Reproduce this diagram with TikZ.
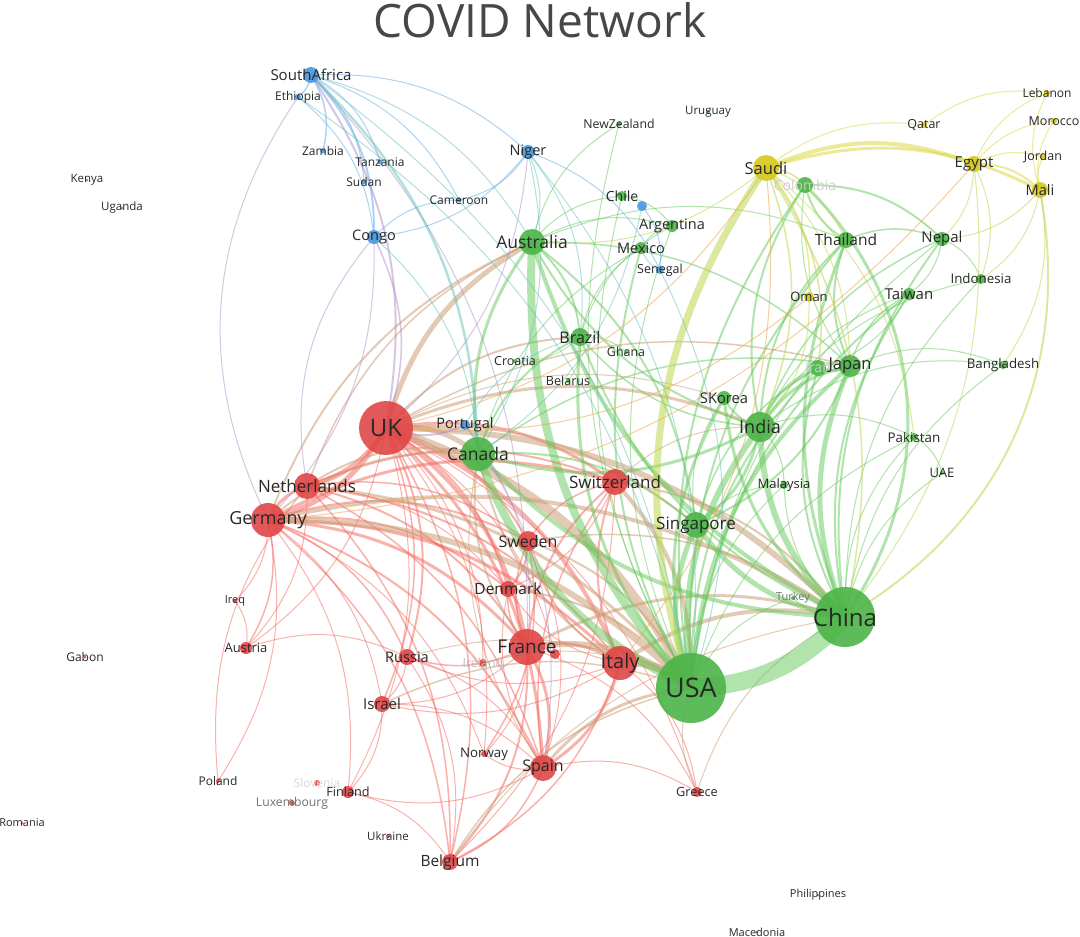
\documentclass[tikz,border=0pt]{standalone}
\usepackage{fontspec}
\setmainfont{Open Sans}
\pgfdeclarelayer{bg}\pgfdeclarelayer{edges}\pgfdeclarelayer{labels}
\pgfsetlayers{bg,edges,main,labels}
\definecolor{nR}{RGB}{224,70,70}
\definecolor{nG}{RGB}{76,180,72}
\definecolor{nB}{RGB}{72,152,222}
\definecolor{nY}{RGB}{212,200,32}
\definecolor{eRc}{RGB}{244,100,90}
\definecolor{eGc}{RGB}{100,200,90}
\definecolor{eBc}{RGB}{110,175,232}
\definecolor{eYc}{RGB}{222,215,70}
\definecolor{eMc}{RGB}{205,160,120}
\definecolor{eYGc}{RGB}{190,215,80}
\definecolor{eRBc}{RGB}{175,140,200}
\definecolor{eGBc}{RGB}{100,195,185}
\definecolor{eRYc}{RGB}{240,165,80}
\definecolor{txt}{RGB}{40,40,40}
\tikzset{
  nd/.style={circle, inner sep=0pt, fill opacity=.9, draw=none},
  lbl/.style={text=txt, inner sep=0pt},
  eR/.style={draw=eRc, draw opacity=.5, bend left=22},
  eG/.style={draw=eGc, draw opacity=.5, bend left=22},
  eB/.style={draw=eBc, draw opacity=.55, bend left=22},
  eY/.style={draw=eYc, draw opacity=.55, bend left=22},
  eM/.style={draw=eMc, draw opacity=.55, bend left=22},
  eYG/.style={draw=eYGc, draw opacity=.55, bend left=22},
  eRB/.style={draw=eRBc, draw opacity=.5, bend left=22},
  eGB/.style={draw=eGBc, draw opacity=.5, bend left=22},
  eRY/.style={draw=eRYc, draw opacity=.55, bend left=22},
}
\newcommand\Nd[7]{%
  \node[nd, fill=#4, minimum size=#5pt] (#1) at (#2,#3) {};
  \begin{pgfonlayer}{labels}
  \node[lbl, font=\fontsize{#6}{#6}\selectfont] (#1-t) at (#2,#3) {#7};
  \end{pgfonlayer}}
\begin{document}
\begin{tikzpicture}[x=1pt,y=-1pt]
\useasboundingbox (0,0) rectangle (1080,937);
\begin{pgfonlayer}{bg}
\fill[white] (0,0) rectangle (1080,937);
\end{pgfonlayer}
\node[text=black!72, font=\fontsize{46}{46}\selectfont, inner sep=0pt] (title) at (540,20) {COVID Network};
% blue
\Nd{SouthAfrica}{311}{75}{nB}{16}{15}{SouthAfrica}
\Nd{Ethiopia}{298}{97}{nB}{6}{12}{Ethiopia}
\Nd{Zambia}{323}{151}{nB}{5}{12}{Zambia}
\Nd{Tanzania}{380}{162}{nB}{5}{12}{Tanzania}
\Nd{Sudan}{364}{182}{nB}{5}{12}{Sudan}
\Nd{Cameroon}{459}{200}{nB}{5}{12}{Cameroon}
\Nd{Congo}{374}{237}{nB}{14}{14.5}{Congo}
\Nd{Niger}{528}{152}{nB}{14}{14.5}{Niger}
\Nd{Senegal}{660}{270}{nB}{8}{12.5}{Senegal}
\Nd{Portugal}{465}{425}{nB}{10}{14.5}{Portugal}
\Nd{Kenya}{87}{180}{nB}{3}{11.5}{Kenya}
\Nd{Uganda}{122}{208}{nB}{3}{11.5}{Uganda}
\node[nd, fill=nB, minimum size=10pt] (bluex) at (642,206) {};
% green
\Nd{Chile}{622}{196}{nG}{10}{14}{Chile}
\Nd{NewZealand}{619}{124}{nG}{5}{12.3}{NewZealand}
\Nd{Uruguay}{708}{112}{nG}{4}{11.5}{Uruguay}
\Nd{Australia}{532}{242}{nG}{26}{17.5}{Australia}
\Nd{Argentina}{672}{226}{nG}{12}{14.5}{Argentina}
\Nd{Mexico}{641}{248}{nG}{12}{14.5}{Mexico}
\Nd{Colombia}{805}{185}{nG}{16}{14}{\color{black!20}Colombia}
\Nd{Thailand}{846}{240}{nG}{16}{15.5}{Thailand}
\Nd{Nepal}{942}{239}{nG}{14}{15}{Nepal}
\Nd{Indonesia}{981}{279}{nG}{10}{13.3}{Indonesia}
\Nd{Taiwan}{909}{294}{nG}{12}{15}{Taiwan}
\Nd{Brazil}{580}{337}{nG}{18}{16}{Brazil}
\Nd{Ghana}{626}{352}{nG}{4}{12.4}{Ghana}
\Nd{Croatia}{515}{361}{nG}{4}{12.5}{Croatia}
\Nd{Belarus}{568}{381}{nG}{4}{12.6}{Belarus}
\Nd{Iran}{818}{368}{nG}{16}{14}{\color{black!20}Iran}
\Nd{Japan}{850}{366}{nG}{22}{16.5}{Japan}
\Nd{Bangladesh}{1003}{365}{nG}{8}{13.3}{Bangladesh}
\Nd{SKorea}{724}{398}{nG}{14}{14.7}{SKorea}
\Nd{India}{760}{427}{nG}{30}{18}{India}
\Nd{Pakistan}{914}{437}{nG}{8}{13.4}{Pakistan}
\Nd{UAE}{942}{473}{nG}{4}{13}{UAE}
\Nd{Malaysia}{784}{485}{nG}{8}{13}{Malaysia}
\Nd{Canada}{478}{454}{nG}{34}{17.5}{Canada}
\Nd{Singapore}{696}{525}{nG}{26}{17}{Singapore}
\Nd{Turkey}{793}{598}{nG}{4}{11}{\color{black!55}Turkey}
\Nd{China}{845}{617}{nG}{60}{24}{China}
\Nd{USA}{691}{688}{nG}{70}{27}{USA}
\Nd{Philippines}{818}{895}{nG}{3}{11}{Philippines}
\Nd{Macedonia}{757}{932}{nG}{3}{11}{Macedonia}
% yellow
\Nd{Saudi}{766}{168}{nY}{26}{16.5}{Saudi}
\Nd{Oman}{809}{297}{nY}{10}{13}{Oman}
\Nd{Qatar}{924}{125}{nY}{6}{12.5}{Qatar}
\Nd{Egypt}{974}{164}{nY}{16}{15}{Egypt}
\Nd{Lebanon}{1047}{93}{nY}{6}{12}{Lebanon}
\Nd{Morocco}{1054}{121}{nY}{6}{12.5}{Morocco}
\Nd{Jordan}{1043}{157}{nY}{6}{12.5}{Jordan}
\Nd{Mali}{1040}{190}{nY}{16}{14.6}{Mali}
% red
\Nd{UK}{386}{428}{nR}{54}{24}{UK}
\Nd{Netherlands}{307}{486}{nR}{26}{17}{Netherlands}
\Nd{Germany}{268}{520}{nR}{34}{18}{Germany}
\Nd{Switzerland}{615}{482}{nR}{26}{17}{Switzerland}
\Nd{Sweden}{528}{541}{nR}{20}{16}{Sweden}
\Nd{Denmark}{508}{589}{nR}{16}{15.5}{Denmark}
\Nd{France}{527}{647}{nR}{36}{19}{France}
\node[nd, fill=nR, minimum size=10pt] (redx) at (555,654) {};
\Nd{Ireland}{483}{663}{nR}{8}{12.5}{\color{black!25}Ireland}
\Nd{Italy}{620}{663}{nR}{34}{20}{Italy}
\Nd{Russia}{407}{657}{nR}{16}{14.6}{Russia}
\Nd{Israel}{382}{704}{nR}{16}{15}{Israel}
\Nd{Iraq}{235}{601}{nR}{4}{11}{Ireq}
\Nd{Austria}{246}{648}{nR}{12}{13}{Austria}
\Nd{Norway}{484}{754}{nR}{6}{13.3}{Norway}
\Nd{Spain}{543}{768}{nR}{26}{16}{Spain}
\Nd{Greece}{697}{792}{nR}{10}{12.7}{Greece}
\Nd{Poland}{218}{781}{nR}{4}{12}{Poland}
\Nd{Slovenia}{317}{783}{nR}{6}{12}{\color{black!15}Slovenia}
\Nd{Luxembourg}{292}{803}{nR}{6}{12.2}{\color{black!55}Luxembourg}
\Nd{Finland}{348}{792}{nR}{12}{12.7}{Finland}
\Nd{Ukraine}{388}{836}{nR}{4}{11.5}{Ukraine}
\Nd{Belgium}{450}{862}{nR}{16}{15.5}{Belgium}
\Nd{Gabon}{85}{657}{nR}{3}{12}{Gabon}
\Nd{Romania}{22}{823}{nR}{3}{11}{Romania}
\begin{pgfonlayer}{edges}
% red-red
\foreach \a/\b/\w in {UK/Germany/5,UK/Netherlands/5,UK/France/4,UK/Italy/4,UK/Spain/3,UK/Switzerland/3,UK/Sweden/2,UK/Denmark/2,UK/Russia/2,UK/Israel/1.5,UK/Belgium/1.5,UK/Norway/1,UK/Austria/1,UK/Finland/1,UK/Greece/1,UK/Ireland/1,
 Germany/Netherlands/3,Germany/France/3,Germany/Italy/3,Germany/Switzerland/3,Germany/Spain/2,Germany/Sweden/2,Germany/Denmark/2,Germany/Austria/1.5,Germany/Russia/1.5,Germany/Israel/1,Germany/Belgium/1.5,Germany/Iraq/1,Germany/Poland/1,Germany/Finland/1,Germany/Norway/1,
 Netherlands/France/2,Netherlands/Italy/2,Netherlands/Spain/1.5,Netherlands/Switzerland/2,Netherlands/Sweden/1.5,Netherlands/Belgium/1.5,Netherlands/Austria/1,
 France/Italy/3,France/Spain/3,France/Switzerland/2,France/Belgium/2,France/Russia/1.5,France/Israel/1,France/Sweden/1.5,France/Denmark/1.5,France/Greece/1,France/Norway/1,France/redx/1.5,
 Italy/Spain/3,Italy/Switzerland/2,Italy/Greece/1,Italy/Belgium/1.5,Italy/Russia/1,Italy/Israel/1,Italy/Sweden/1.5,Italy/Denmark/1,
 Spain/Belgium/1.5,Spain/Norway/1,Spain/Finland/1,Spain/Switzerland/1.5,Spain/Denmark/1,Spain/Greece/1,
 Sweden/Denmark/2,Sweden/Norway/1.5,Sweden/Switzerland/1.5,Switzerland/Denmark/1,Switzerland/Belgium/1,
 Russia/Israel/1,Israel/Finland/1,Austria/Russia/1,Iraq/Austria/1,Poland/Netherlands/1,Israel/Spain/1,Russia/Spain/1,Finland/Belgium/1,UK/redx/1,Netherlands/Denmark/1,Sweden/Spain/1,Russia/Belgium/1}
 {\draw[eR, line width=\w pt] (\a.center) to (\b.center);}
% red-green
\foreach \a/\b/\w in {UK/USA/9,UK/Canada/5,UK/Australia/5,UK/China/6,UK/India/3,UK/Singapore/2,UK/Brazil/2,UK/Japan/1.5,UK/SKorea/1,
 Germany/USA/6,Germany/China/4,Germany/Canada/2,France/USA/6,Italy/USA/7,Italy/China/4,Spain/USA/3,Switzerland/USA/4,Switzerland/China/2,
 Sweden/USA/2,Netherlands/USA/3,Netherlands/Canada/2,Denmark/USA/2,Belgium/USA/1.5,Russia/USA/1,Israel/USA/1.5,Greece/USA/1,France/China/3,
 France/Canada/2,Italy/Canada/2,Spain/Canada/1,Germany/Australia/2,Netherlands/Australia/1.5,Switzerland/India/1,Sweden/China/1.5,Ireland/USA/1,Greece/China/1,Belgium/China/1}
 {\draw[eM, line width=\w pt] (\a.center) to (\b.center);}
% green-green
\foreach \a/\b/\w in {China/USA/18,USA/Canada/8,USA/Australia/8,USA/India/6,USA/Japan/4,USA/Singapore/5,USA/Brazil/3,USA/SKorea/3,USA/Iran/2,USA/Thailand/2,USA/Mexico/2,USA/Colombia/2,USA/Taiwan/2,USA/Turkey/1,USA/Malaysia/1,USA/Argentina/1,USA/Nepal/1,USA/Pakistan/1,USA/Chile/1,USA/NewZealand/1,
 China/India/6,China/Japan/5,China/Singapore/5,China/Canada/4,China/Australia/4,China/Thailand/3,China/Iran/2,China/SKorea/3,China/Brazil/2,China/Taiwan/2,China/Nepal/2,China/Pakistan/1,China/Indonesia/1,China/Malaysia/1,China/Bangladesh/1,China/UAE/1,China/Turkey/1,
 India/Japan/3,India/Iran/3,India/Singapore/3,India/SKorea/2,India/Canada/3,India/Australia/2,India/Thailand/2,India/Nepal/1.5,India/Colombia/2,India/Brazil/1.5,India/Taiwan/1,India/Pakistan/1,India/Malaysia/1,India/Bangladesh/1,India/Indonesia/1,
 Canada/Australia/3,Canada/Brazil/2,Canada/Singapore/2,Canada/Japan/1.5,Canada/Mexico/1,
 Australia/Brazil/2,Australia/Singapore/2,Australia/Japan/1.5,Australia/NewZealand/1,Australia/Argentina/1,Australia/Chile/1,Australia/Thailand/1,
 Japan/Thailand/2,Japan/Colombia/1,Japan/Iran/3,Japan/Singapore/2,Japan/Taiwan/1.5,Thailand/Colombia/2,Thailand/Nepal/1.5,Colombia/Nepal/2,Nepal/Taiwan/1,Nepal/Indonesia/1,Taiwan/Iran/1,
 Singapore/Malaysia/1,Singapore/SKorea/1,Brazil/Argentina/1,Brazil/Mexico/1,Brazil/Ghana/1,Mexico/Argentina/1,Chile/Argentina/1,Brazil/Croatia/.8,Brazil/Belarus/.8,Pakistan/UAE/1,Japan/Bangladesh/1,Singapore/Iran/1.5}
 {\draw[eG, line width=\w pt] (\a.center) to (\b.center);}
\draw[eG, line width=3pt, bend left=40] (Colombia.center) to (China.center);
% yellow
\foreach \a/\b/\w in {Saudi/Egypt/4,Saudi/Mali/3,Saudi/Oman/1.5,Saudi/Qatar/1,Egypt/Mali/2,Egypt/Lebanon/1,Egypt/Morocco/1,Egypt/Jordan/1,Mali/Lebanon/1,Mali/Morocco/1,Qatar/Lebanon/1,Mali/Jordan/1}
 {\draw[eY, line width=\w pt] (\a.center) to (\b.center);}
% yellow-green
\foreach \a/\b/\w in {Mali/Nepal/1,Egypt/Nepal/1,Egypt/Indonesia/1,Mali/Indonesia/1,Saudi/India/1.5,Saudi/Iran/1.5,Saudi/China/1.5,Saudi/Japan/1,Saudi/Thailand/1,Saudi/Colombia/1.5,Saudi/Pakistan/1,Oman/India/1,Saudi/Australia/1,Mali/Bangladesh/1,Egypt/China/1}
 {\draw[eYG, line width=\w pt] (\a.center) to (\b.center);}
\draw[eYG, line width=7pt, bend left=26] (USA.center) to (Saudi.center);
\draw[eYG, line width=2pt, bend left=35] (Mali.center) to (China.center);
% red-yellow
\foreach \a/\b/\w in {Saudi/UK/1,Oman/UK/1,Egypt/Germany/1,Saudi/Italy/1}
 {\draw[eRY, line width=\w pt] (\a.center) to (\b.center);}
% blue
\foreach \a/\b/\w in {SouthAfrica/Ethiopia/1.5,SouthAfrica/Congo/2,SouthAfrica/Zambia/1.5,SouthAfrica/Tanzania/1,SouthAfrica/Sudan/1,SouthAfrica/Niger/1,SouthAfrica/Cameroon/1,
 Niger/Congo/1,Niger/Cameroon/1,Niger/Senegal/1,Congo/Cameroon/1,bluex/Senegal/1,Ethiopia/Congo/1}
 {\draw[eB, line width=\w pt] (\a.center) to (\b.center);}
% blue-red
\foreach \a/\b/\w in {SouthAfrica/UK/2,Congo/UK/1.5,Congo/Germany/1,Portugal/UK/2,Portugal/Spain/1,Portugal/France/1,SouthAfrica/France/1,Niger/UK/1}
 {\draw[eRB, line width=\w pt] (\a.center) to (\b.center);}
\draw[eRB, line width=1pt, bend left=30] (Germany.center) to (Ethiopia.center);
\draw[eRB, line width=1pt, bend left=25] (Netherlands.center) to (Congo.center);
% blue-green
\foreach \a/\b/\w in {SouthAfrica/USA/1,SouthAfrica/Australia/1,SouthAfrica/Canada/2.5,Niger/Australia/1,Niger/Brazil/1,Niger/Canada/1,Congo/Canada/1,Senegal/USA/1,Senegal/Mexico/1,bluex/Canada/1,Portugal/Brazil/1,Niger/USA/1,Ethiopia/USA/1}
 {\draw[eGB, line width=\w pt] (\a.center) to (\b.center);}
\end{pgfonlayer}
\end{tikzpicture}
\end{document}
